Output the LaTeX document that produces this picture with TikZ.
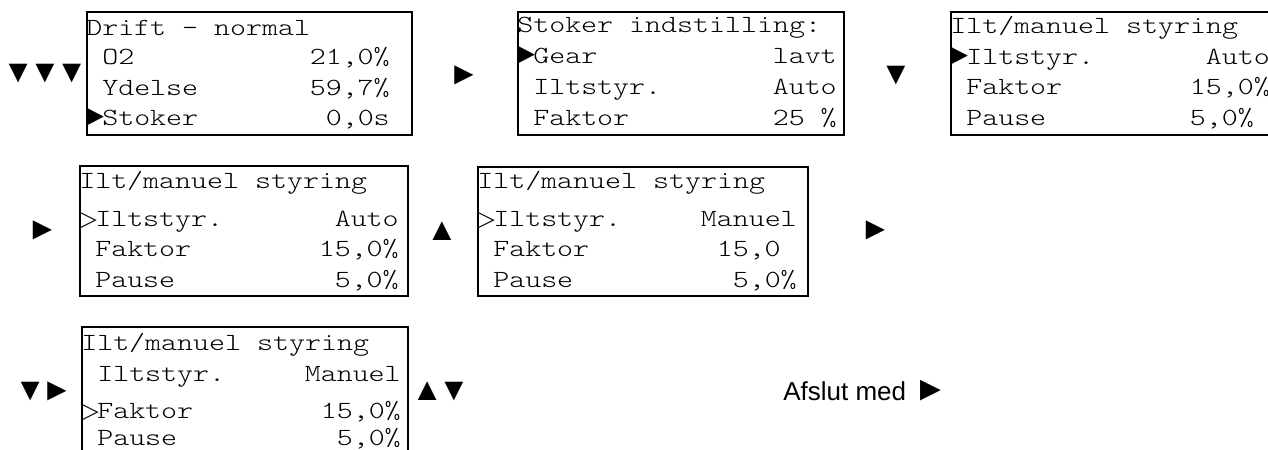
\documentclass[tikz,border=0pt]{standalone}
\usepackage{fontspec}
\setmainfont{Liberation Sans}
\newfontfamily\lcdfont{lmmonolt10-regular.otf}[FakeStretch=1.235]
\newfontfamily\ptrfont{Liberation Mono}
\newfontfamily\markfont{DejaVu Sans}
\usetikzlibrary{calc}
% one display line: box, tag, baseline offset, name text, value text, last column
\newcommand\lcditem[6]{%
  \node[lcd,anchor=base west] (#1-#2n) at ($(#1.north west)+(16,#3)$) {#4};
  \node[lcd,anchor=base east] (#1-#2v) at ($(#1.north west)+(#6*16,#3)$) {#5};}
\newcommand\lcdtitle[3]{%
  \node[lcd,anchor=base west] (#1-t) at ($(#1.north west)+(0,#2)$) {#3};}
\newcommand\lcdptr[3]{%
  \node[inner sep=0pt,anchor=base west] (#1-p) at ($(#1.north west)+(0,#2)$) {#3};}
\newcommand\solidptr{\ptrfont\fontsize{22}{22}\selectfont ►}
\newcommand\hollowptr{\markfont\fontsize{17}{17}\selectfont ▷}
\begin{document}
\begin{tikzpicture}[x=0.75pt,y=-0.75pt,
  screen/.style 2 args={draw, line width=1.5pt, anchor=north west, inner sep=0pt,
    minimum width=#1*0.75pt, minimum height=#2*0.75pt},
  lcd/.style={inner sep=0pt, font=\lcdfont\fontsize{18.5}{22}\selectfont},
  keysym/.style={inner sep=0pt, font=\fontsize{24}{26}\selectfont},
  caption/.style={inner sep=0pt, anchor=base west, font=\fontsize{19.5}{24}\selectfont}]
\clip (0,0) rectangle (1268,450);

% ---- display screens ----
\node[screen={325}{123}] (b1) at (86,11) {};
\node[screen={326}{123}] (b2) at (517,11) {};
\node[screen={326}{123}] (b3) at (950,11) {};
\node[screen={328}{130}] (b4) at (79,165) {};
\node[screen={330}{129}] (b5) at (477,166) {};
\node[screen={326}{140}] (b6) at (81,326) {};

% screen 1
\lcdtitle{b1}{24}{Drift – normal}
\lcditem{b1}{1}{53}{O2}{21,0\%}{19}
\lcditem{b1}{2}{84}{Ydelse}{59,7\%}{19}
\lcditem{b1}{3}{114}{Stoker}{0,0s}{19}
\lcdptr{b1}{114}{\solidptr}

% screen 2
\lcdtitle{b2}{21}{Stoker indstilling:}
\lcditem{b2}{1}{52}{Gear}{lavt}{20}
\lcditem{b2}{2}{83}{Iltstyr.}{Auto}{20}
\lcditem{b2}{3}{114}{Faktor}{25 \%}{20}
\lcdptr{b2}{52}{\solidptr}

% screen 3
\lcdtitle{b3}{22}{Ilt/manuel styring}
\lcditem{b3}{1}{53}{Iltstyr.}{Auto}{20}
\lcditem{b3}{2}{83}{Faktor}{15,0\%}{20}
\lcditem{b3}{3}{114}{Pause}{5,0\%}{19}
\lcdptr{b3}{53}{\solidptr}

% screen 4
\lcdtitle{b4}{23}{Ilt/manuel styring}
\lcditem{b4}{1}{61}{Iltstyr.}{Auto}{20}
\lcditem{b4}{2}{91}{Faktor}{15,0\%}{20}
\lcditem{b4}{3}{122}{Pause}{5,0\%}{20}
\lcdptr{b4}{61}{\hollowptr}

% screen 5
\lcdtitle{b5}{22}{Ilt/manuel styring}
\lcditem{b5}{1}{60}{Iltstyr.}{Manuel}{20}
\lcditem{b5}{2}{90}{Faktor}{15,0}{19}
\lcditem{b5}{3}{121}{Pause}{5,0\%}{20}
\lcdptr{b5}{60}{\hollowptr}

% screen 6
\lcdtitle{b6}{24}{Ilt/manuel styring}
\lcditem{b6}{1}{55}{Iltstyr.}{Manuel}{20}
\lcditem{b6}{2}{92}{Faktor}{15,0\%}{20}
\lcditem{b6}{3}{119}{Pause}{5,0\%}{20}
\lcdptr{b6}{92}{\hollowptr}

% ---- key presses between screens ----
\node[keysym] (k1) at (45,73.5) {▼\kern-3.75pt▼\kern-3.75pt▼};
\node[keysym] (k2) at (464,75) {►};
\node[keysym] (k3) at (896,76) {▼};
\node[keysym] (k4) at (42.5,230) {►};
\node[keysym] (k5) at (442,231.5) {▲};
\node[keysym] (k6) at (875.5,230) {►};
\node[keysym] (k7) at (43.5,391) {▼\kern-3.75pt►};
\node[keysym] (k8) at (440.5,391) {▲\kern-3.75pt▼};
\node[caption] (k9) at (783,400) {Afslut med {\fontsize{26}{26}\selectfont ►}};
\end{tikzpicture}
\end{document}
